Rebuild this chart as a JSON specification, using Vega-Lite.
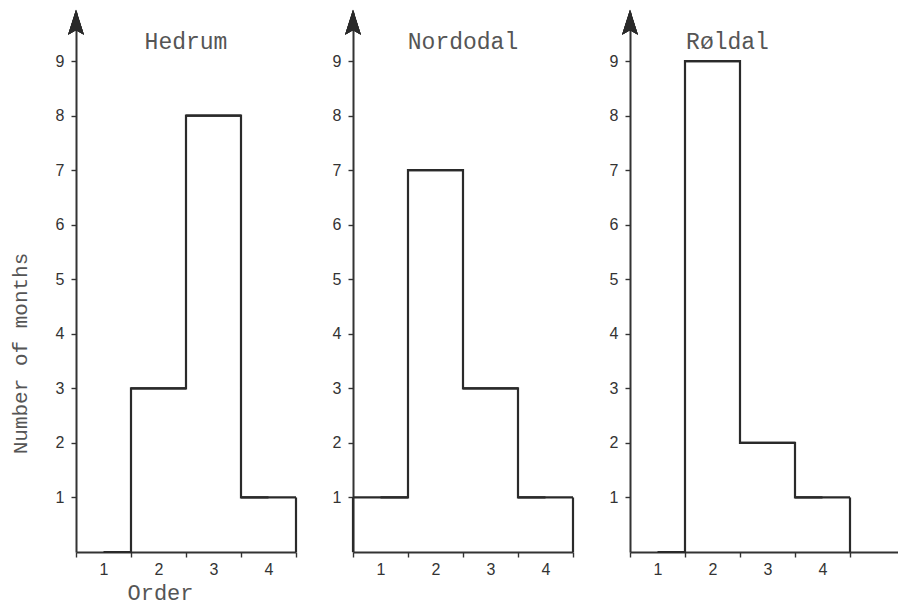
{
  "$schema": "https://vega.github.io/schema/vega-lite/v6.json",
  "autosize": "none",
  "padding": {"left": 76, "top": 12, "right": 822, "bottom": 595},
  "background": "white",
  "datasets": {
    "hedrum": [{"order": 1, "months": 0}, {"order": 2, "months": 3}, {"order": 3, "months": 8}, {"order": 4, "months": 1}],
    "nordodal": [{"order": 1, "months": 1}, {"order": 2, "months": 7}, {"order": 3, "months": 3}, {"order": 4, "months": 1}],
    "roldal": [{"order": 1, "months": 0}, {"order": 2, "months": 9}, {"order": 3, "months": 2}, {"order": 4, "months": 1}]
  },
  "hconcat": [
    {
      "width": 220, "height": 540,
      "title": {"text": "Hedrum"},
      "data": {"name": "hedrum"},
      "encoding": {
        "x": {"field": "order", "type": "ordinal", "title": "Order",
          "scale": {"type": "band", "domain": [1, 2, 3, 4], "paddingInner": 0, "paddingOuter": 0},
          "axis": {"tickBand": "extent", "labelAngle": 0, "labelPadding": 4, "title": "Order", "titleX": 84, "titleY": 40, "titleBaseline": "middle", "titleAlign": "center"}},
        "y": {"field": "months", "type": "quantitative", "title": "Number of months",
          "scale": {"domain": [0, 9.9], "nice": false},
          "axis": {"values": [1, 2, 3, 4, 5, 6, 7, 8, 9], "labelPadding": 7, "title": "Number of months", "titleX": -56, "titleY": 341, "titleAngle": 270, "titleAlign": "center", "titleBaseline": "middle", "titleFontSize": 21}}
      },
      "layer": [
        {"mark": {"type": "line", "interpolate": "step", "color": "#2a2a2a", "strokeWidth": 2.2}},
        {"transform": [{"filter": "datum.months > 0"}], "mark": {"type": "tick", "orient": "horizontal", "size": 55, "thickness": 2.2, "color": "#2a2a2a", "opacity": 1}},
        {"transform": [{"filter": "datum.order == 1"}], "mark": {"type": "rule", "color": "#2a2a2a", "strokeWidth": 2.2},
          "encoding": {"x": {"field": "order", "type": "ordinal", "bandPosition": 0, "title": "Order"}, "y2": {"datum": 0}}},
        {"transform": [{"filter": "datum.order == 4"}], "mark": {"type": "rule", "color": "#2a2a2a", "strokeWidth": 2.2},
          "encoding": {"x": {"field": "order", "type": "ordinal", "bandPosition": 1, "title": "Order"}, "y2": {"datum": 0}}},
        {"mark": {"type": "point", "shape": "M0,-1L0.6,0.9L0,0.55L-0.6,0.9Z", "filled": true, "size": 700, "color": "#2a2a2a", "opacity": 1},
          "encoding": {"x": {"datum": 1, "type": "ordinal", "bandPosition": 0}, "y": {"datum": 9.7, "type": "quantitative"}}}
      ]
    },
    {
      "width": 220, "height": 540,
      "title": {"text": "Nordodal"},
      "data": {"name": "nordodal"},
      "encoding": {
        "x": {"field": "order", "type": "ordinal", "title": null,
          "scale": {"type": "band", "domain": [1, 2, 3, 4], "paddingInner": 0, "paddingOuter": 0},
          "axis": {"tickBand": "extent", "labelAngle": 0, "labelPadding": 4, "title": null}},
        "y": {"field": "months", "type": "quantitative", "title": null,
          "scale": {"domain": [0, 9.9], "nice": false},
          "axis": {"values": [1, 2, 3, 4, 5, 6, 7, 8, 9], "labelPadding": 7, "title": null}}
      },
      "layer": [
        {"mark": {"type": "line", "interpolate": "step", "color": "#2a2a2a", "strokeWidth": 2.2}},
        {"transform": [{"filter": "datum.months > 0"}], "mark": {"type": "tick", "orient": "horizontal", "size": 55, "thickness": 2.2, "color": "#2a2a2a", "opacity": 1}},
        {"transform": [{"filter": "datum.order == 1"}], "mark": {"type": "rule", "color": "#2a2a2a", "strokeWidth": 2.2},
          "encoding": {"x": {"field": "order", "type": "ordinal", "bandPosition": 0, "title": null}, "y2": {"datum": 0}}},
        {"transform": [{"filter": "datum.order == 4"}], "mark": {"type": "rule", "color": "#2a2a2a", "strokeWidth": 2.2},
          "encoding": {"x": {"field": "order", "type": "ordinal", "bandPosition": 1, "title": null}, "y2": {"datum": 0}}},
        {"mark": {"type": "point", "shape": "M0,-1L0.6,0.9L0,0.55L-0.6,0.9Z", "filled": true, "size": 700, "color": "#2a2a2a", "opacity": 1},
          "encoding": {"x": {"datum": 1, "type": "ordinal", "bandPosition": 0}, "y": {"datum": 9.7, "type": "quantitative"}}}
      ]
    },
    {
      "width": 275, "height": 540,
      "title": {"text": "Røldal", "dx": -40},
      "data": {"name": "roldal"},
      "encoding": {
        "x": {"field": "order", "type": "ordinal", "title": null,
          "scale": {"type": "band", "domain": [1, 2, 3, 4, 5], "paddingInner": 0, "paddingOuter": 0},
          "axis": {"tickBand": "extent", "labelAngle": 0, "labelPadding": 4, "title": null, "labelExpr": "datum.value == 5 ? '' : datum.label"}},
        "y": {"field": "months", "type": "quantitative", "title": null,
          "scale": {"domain": [0, 9.9], "nice": false},
          "axis": {"values": [1, 2, 3, 4, 5, 6, 7, 8, 9], "labelPadding": 7, "title": null}}
      },
      "layer": [
        {"mark": {"type": "line", "interpolate": "step", "color": "#2a2a2a", "strokeWidth": 2.2}},
        {"transform": [{"filter": "datum.months > 0"}], "mark": {"type": "tick", "orient": "horizontal", "size": 55, "thickness": 2.2, "color": "#2a2a2a", "opacity": 1}},
        {"transform": [{"filter": "datum.order == 1"}], "mark": {"type": "rule", "color": "#2a2a2a", "strokeWidth": 2.2},
          "encoding": {"x": {"field": "order", "type": "ordinal", "bandPosition": 0, "title": null}, "y2": {"datum": 0}}},
        {"transform": [{"filter": "datum.order == 4"}], "mark": {"type": "rule", "color": "#2a2a2a", "strokeWidth": 2.2},
          "encoding": {"x": {"field": "order", "type": "ordinal", "bandPosition": 1, "title": null}, "y2": {"datum": 0}}},
        {"mark": {"type": "point", "shape": "M0,-1L0.6,0.9L0,0.55L-0.6,0.9Z", "filled": true, "size": 700, "color": "#2a2a2a", "opacity": 1},
          "encoding": {"x": {"datum": 1, "type": "ordinal", "bandPosition": 0}, "y": {"datum": 9.7, "type": "quantitative"}}}
      ]
    }
  ],
  "spacing": 57,
  "bounds": "flush",
  "config": {
    "view": {"stroke": null},
    "axis": {"domainColor": "#333", "domainWidth": 2, "tickColor": "#333", "tickWidth": 1.4, "tickSize": 5, "grid": false,
      "labelFont": "Liberation Sans", "labelFontSize": 16, "labelColor": "#333",
      "titleFont": "Liberation Mono", "titleFontSize": 22, "titleFontWeight": "normal", "titleColor": "#555"},
    "title": {"font": "Liberation Mono", "fontSize": 23, "fontWeight": "normal", "color": "#555", "offset": -44, "frame": "group", "anchor": "middle"}
  }
}
